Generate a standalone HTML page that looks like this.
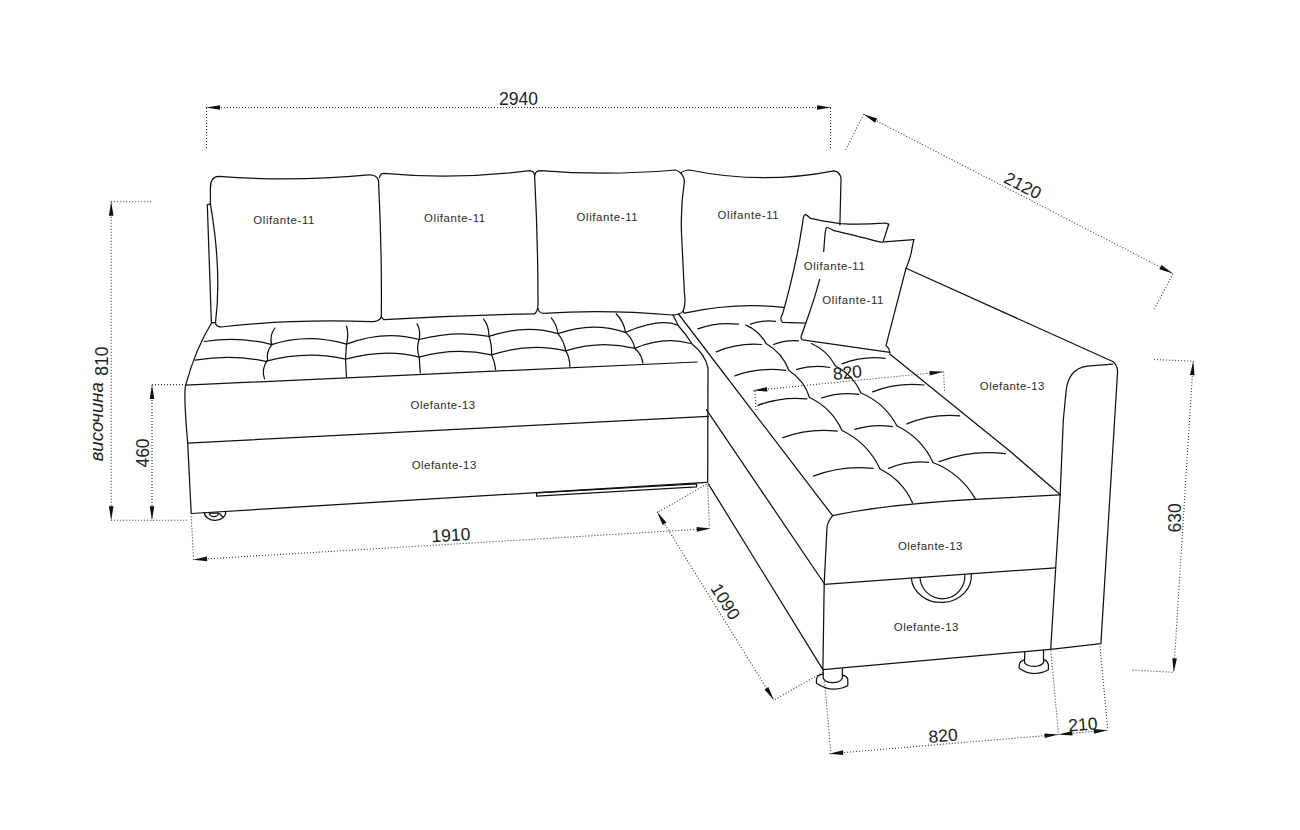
<!DOCTYPE html>
<html><head><meta charset="utf-8"><style>html,body{margin:0;padding:0;background:#fff;}svg{display:block;}text{font-family:"Liberation Sans",sans-serif;}</style></head>
<body><svg width="1300" height="830" viewBox="0 0 1300 830">
<rect width="1300" height="830" fill="#fff"/>
<line x1="206" y1="107.5" x2="831" y2="107.5" fill="none" stroke="#333" stroke-width="1.1" stroke-dasharray="1 2"/>
<path d="M206.0,107.5 L220.0,105.2 L220.0,109.8 Z" fill="#111"/>
<path d="M831.0,107.5 L817.0,109.8 L817.0,105.2 Z" fill="#111"/>
<line x1="206.5" y1="108" x2="206.5" y2="148" fill="none" stroke="#333" stroke-width="1.1" stroke-dasharray="1 2"/>
<line x1="830.5" y1="108" x2="830.5" y2="148.5" fill="none" stroke="#333" stroke-width="1.1" stroke-dasharray="1 2"/>
<text x="499" y="104.5" font-size="17.5" text-anchor="start"  fill="#222">2940</text>
<line x1="863.6" y1="114.2" x2="1172.9" y2="273.6" fill="none" stroke="#333" stroke-width="1.1" stroke-dasharray="1 2"/>
<path d="M863.6,114.2 L877.1,118.6 L875.0,122.7 Z" fill="#111"/>
<path d="M1172.9,273.6 L1159.4,269.2 L1161.5,265.1 Z" fill="#111"/>
<line x1="863.6" y1="114.2" x2="845.7" y2="149.8" fill="none" stroke="#333" stroke-width="1.1" stroke-dasharray="1 2"/>
<line x1="1172.9" y1="273.6" x2="1154.4" y2="309.1" fill="none" stroke="#333" stroke-width="1.1" stroke-dasharray="1 2"/>
<text x="1020.1" y="190.9" font-size="17.5" text-anchor="middle"  fill="#222" transform="rotate(27.3 1020.1 190.9)">2120</text>
<line x1="111.2" y1="201.7" x2="111.2" y2="520.3" fill="none" stroke="#333" stroke-width="1.1" stroke-dasharray="1 2"/>
<path d="M111.2,201.7 L113.5,215.7 L108.9,215.7 Z" fill="#111"/>
<path d="M111.2,520.3 L108.9,506.3 L113.5,506.3 Z" fill="#111"/>
<line x1="111.2" y1="201.7" x2="152.4" y2="201.7" fill="none" stroke="#333" stroke-width="1.1" stroke-dasharray="1 2"/>
<line x1="111.2" y1="520.3" x2="187" y2="520.3" fill="none" stroke="#333" stroke-width="1.1" stroke-dasharray="1 2"/>
<text x="108.5" y="361.2" font-size="17.5" text-anchor="middle"  fill="#222" transform="rotate(-90 108.5 361.2)">810</text>
<text x="103.5" y="421.8" font-size="18.5" text-anchor="middle" font-style="italic" fill="#222" transform="rotate(-90 103.5 421.8)">височина</text>
<line x1="152" y1="385" x2="152" y2="520.3" fill="none" stroke="#333" stroke-width="1.1" stroke-dasharray="1 2"/>
<path d="M152.0,385.0 L154.3,399.0 L149.7,399.0 Z" fill="#111"/>
<path d="M152.0,520.3 L149.7,506.3 L154.3,506.3 Z" fill="#111"/>
<line x1="152" y1="384.6" x2="185" y2="384.6" fill="none" stroke="#333" stroke-width="1.1" stroke-dasharray="1 2"/>
<text x="149.2" y="453" font-size="17.5" text-anchor="middle"  fill="#222" transform="rotate(-90 149.2 453)">460</text>
<line x1="193.1" y1="559.7" x2="710.7" y2="528.6" fill="none" stroke="#333" stroke-width="1.1" stroke-dasharray="1 2"/>
<path d="M193.1,559.7 L206.9,556.6 L207.2,561.2 Z" fill="#111"/>
<path d="M710.7,528.6 L696.9,531.7 L696.6,527.1 Z" fill="#111"/>
<line x1="191.2" y1="516.4" x2="193.5" y2="557.8" fill="none" stroke="#333" stroke-width="1.1" stroke-dasharray="1 2"/>
<line x1="707.7" y1="485.5" x2="709.4" y2="526.2" fill="none" stroke="#333" stroke-width="1.1" stroke-dasharray="1 2"/>
<text x="451.3" y="541.1" font-size="17.5" text-anchor="middle"  fill="#222" transform="rotate(-3.44 451.3 541.1)">1910</text>
<line x1="657.2" y1="511.9" x2="773.8" y2="700.1" fill="none" stroke="#333" stroke-width="1.1" stroke-dasharray="1 2"/>
<path d="M657.2,511.9 L666.5,522.6 L662.6,525.0 Z" fill="#111"/>
<path d="M773.8,700.1 L764.5,689.4 L768.4,687.0 Z" fill="#111"/>
<line x1="706.5" y1="484.3" x2="657.2" y2="512.6" fill="none" stroke="#333" stroke-width="1.1" stroke-dasharray="1 2"/>
<line x1="822.9" y1="672.3" x2="773.8" y2="700.1" fill="none" stroke="#333" stroke-width="1.1" stroke-dasharray="1 2"/>
<text x="720.3" y="604.8" font-size="17.5" text-anchor="middle"  fill="#222" transform="rotate(58.2 720.3 604.8)">1090</text>
<line x1="753.2" y1="390.6" x2="943.6" y2="371.8" fill="none" stroke="#333" stroke-width="1.1" stroke-dasharray="1 2"/>
<path d="M753.2,390.6 L766.9,386.9 L767.4,391.5 Z" fill="#111"/>
<path d="M943.6,371.8 L929.9,375.5 L929.4,370.9 Z" fill="#111"/>
<line x1="755" y1="391" x2="756" y2="411" fill="none" stroke="#333" stroke-width="1.1" stroke-dasharray="1 2"/>
<line x1="943.6" y1="371.8" x2="944.6" y2="392.6" fill="none" stroke="#333" stroke-width="1.1" stroke-dasharray="1 2"/>
<text x="848" y="378.5" font-size="17.5" text-anchor="middle"  fill="#222" transform="rotate(-5.6 848 378.5)">820</text>
<line x1="829.2" y1="753.8" x2="1058.5" y2="734.5" fill="none" stroke="#333" stroke-width="1.1" stroke-dasharray="1 2"/>
<path d="M829.2,753.8 L843.0,750.3 L843.3,754.9 Z" fill="#111"/>
<path d="M1058.5,734.5 L1044.7,738.0 L1044.4,733.4 Z" fill="#111"/>
<line x1="824.6" y1="681.5" x2="830.8" y2="752.3" fill="none" stroke="#333" stroke-width="1.1" stroke-dasharray="1 2"/>
<line x1="1050.8" y1="650.8" x2="1058.5" y2="733.8" fill="none" stroke="#333" stroke-width="1.1" stroke-dasharray="1 2"/>
<text x="943.6" y="741.7" font-size="17.5" text-anchor="middle"  fill="#222" transform="rotate(-4.8 943.6 741.7)">820</text>
<line x1="1058.5" y1="734.5" x2="1107.7" y2="730.2" fill="none" stroke="#333" stroke-width="1.1" stroke-dasharray="1 2"/>
<path d="M1058.5,734.5 L1072.2,731.0 L1072.6,735.6 Z" fill="#111"/>
<path d="M1107.7,730.2 L1094.0,733.7 L1093.6,729.1 Z" fill="#111"/>
<line x1="1100" y1="646.2" x2="1107.7" y2="729.2" fill="none" stroke="#333" stroke-width="1.1" stroke-dasharray="1 2"/>
<text x="1083.3" y="730.3" font-size="17.5" text-anchor="middle"  fill="#222" transform="rotate(-4.8 1083.3 730.3)">210</text>
<line x1="1193.2" y1="361.2" x2="1173.7" y2="672.3" fill="none" stroke="#333" stroke-width="1.1" stroke-dasharray="1 2"/>
<path d="M1193.2,361.2 L1194.6,375.3 L1190.0,375.0 Z" fill="#111"/>
<path d="M1173.7,672.3 L1172.3,658.2 L1176.9,658.5 Z" fill="#111"/>
<line x1="1154.2" y1="359.5" x2="1193.2" y2="361.2" fill="none" stroke="#333" stroke-width="1.1" stroke-dasharray="1 2"/>
<line x1="1132.5" y1="670.1" x2="1173.7" y2="672.3" fill="none" stroke="#333" stroke-width="1.1" stroke-dasharray="1 2"/>
<text x="1181" y="517.8" font-size="17.5" text-anchor="middle"  fill="#222" transform="rotate(-90 1181 517.8)">630</text>
<path d="M219,176.3 Q292,182 368.7,174.8 C374,174.5 378,177 378.5,180.6 Q382,250 381.3,316.2 C381,320 376,322 370.9,321.6 Q290,319 221,327 C218,327 215.5,325 215.5,322.7 Q222,272 210.4,203.8 L210.4,188 C210.4,180 214,176.3 219,176.3 Z" fill="none" stroke="#111" stroke-width="1.25" stroke-linecap="round" stroke-linejoin="round" />
<path d="M210.4,203.8 L207.3,204.8 L211.4,322.7 L215.5,322.7" fill="none" stroke="#111" stroke-width="1.25" stroke-linecap="round" stroke-linejoin="round" />
<path d="M379.6,177.4 C380,174.5 382,173.4 384,173.4 Q455,180 530,170.6 C533,171 534.6,173 534.6,175.9 Q538,240 538,303.2 C538,310 536,313.8 534,313.8 Q460,315 384,319.7 C382.5,319 381.8,318 381.3,316.2" fill="none" stroke="#111" stroke-width="1.25" stroke-linecap="round" stroke-linejoin="round" />
<path d="M534.6,175.9 C535,172 538,170.6 540.7,170.6 Q605.6,176 675.2,170 C680,171 684.4,176 684.4,181.2 Q680,210 681.8,239.5 Q683,265 684.4,292.5 Q686,305 683.1,311 C681,314 676,315 672.5,315 Q605,309 543.3,313.3 C540,313 538.5,311 538,308.5" fill="none" stroke="#111" stroke-width="1.25" stroke-linecap="round" stroke-linejoin="round" />
<path d="M680.5,173.2 C683,171 686,170.1 689.7,170 Q761.6,185 833.9,170.8 C838,171 841,175 841,179.3 L839.9,225" fill="none" stroke="#111" stroke-width="1.25" stroke-linecap="round" stroke-linejoin="round" />
<path d="M683.1,311 C683.5,312.5 684,313 684.4,313.1 Q735,302 783.6,307.3" fill="none" stroke="#111" stroke-width="1.25" stroke-linecap="round" stroke-linejoin="round" />
<path d="M888.7,224.2 Q886,222.8 883.4,223.1 Q860,225 841,223.6 Q822,221 810.4,218.3 Q807,215 805.1,214.4 Q803,216 802.5,223.6 Q800.5,236 798.5,247.5 Q791,285 782.6,313.8 Q779,319.5 782.6,322.3 L805.1,323.1" fill="none" stroke="#111" stroke-width="1.25" stroke-linecap="round" stroke-linejoin="round" />
<path d="M888.7,224.2 L883.4,240.9" fill="none" stroke="#111" stroke-width="1.25" stroke-linecap="round" stroke-linejoin="round" />
<path d="M913.9,239.6 L880.7,242.2 Q850,234 833,230.3 Q828,227 826.3,227.6 Q825.5,230 825,234.3 L823.7,251.5" fill="none" stroke="#111" stroke-width="1.25" stroke-linecap="round" stroke-linejoin="round" />
<path d="M819.7,279.3 Q815,297 809.1,313.8 L801.2,336.3 Q800.5,339 802.5,339.8 L890,352.3 Q889,348 886,345.6 L905.9,268.7 Q909,262 911.2,252.8 Q912.5,245 913.9,239.6" fill="none" stroke="#111" stroke-width="1.25" stroke-linecap="round" stroke-linejoin="round" />
<path d="M906,268.3 L1112.7,361.5 Q1117.3,365 1117.6,371.2 L1100.9,643.6 L1050.7,649.3 L1060.1,496.4 L1063.3,420 L1066,392 Q1068,369 1087,366.2 L1112.7,364.2" fill="none" stroke="#111" stroke-width="1.25" stroke-linecap="round" stroke-linejoin="round" />
<path d="M889.8,354 L1008.8,450.2 L1060.3,494.8" fill="none" stroke="#111" stroke-width="1.25" stroke-linecap="round" stroke-linejoin="round" />
<path d="M832.6,515.7 Q880,505 974.5,499.4 L1060.3,494.8" fill="none" stroke="#111" stroke-width="1.25" stroke-linecap="round" stroke-linejoin="round" />
<path d="M832.6,515.7 C829,520 826.9,526 826.9,529.2 L824.2,583.5 L822.9,669.6 L1050.7,649.3" fill="none" stroke="#111" stroke-width="1.25" stroke-linecap="round" stroke-linejoin="round" />
<path d="M824.2,584.3 L1055.4,567.8" fill="none" stroke="#111" stroke-width="1.25" stroke-linecap="round" stroke-linejoin="round" />
<path d="M911.3,578.1 A30,26.4 0 0 0 971.3,573.8" fill="none" stroke="#111" stroke-width="1.25" stroke-linecap="round" stroke-linejoin="round" />
<path d="M919.9,577.5 A22.45,22.8 0 0 0 964.8,574.3" fill="none" stroke="#111" stroke-width="1.25" stroke-linecap="round" stroke-linejoin="round" />
<path d="M678.5,314 L832.6,515.7" fill="none" stroke="#111" stroke-width="1.25" stroke-linecap="round" stroke-linejoin="round" />
<path d="M706.4,409.6 L824.2,583.5" fill="none" stroke="#111" stroke-width="1.25" stroke-linecap="round" stroke-linejoin="round" />
<path d="M708.3,483.8 L822.9,669.6" fill="none" stroke="#111" stroke-width="1.25" stroke-linecap="round" stroke-linejoin="round" />
<path d="M211.5,323 Q196,348 185.6,385.1 L697,362" fill="none" stroke="#111" stroke-width="1.25" stroke-linecap="round" stroke-linejoin="round" />
<path d="M185.6,385.1 Q183.5,395 187.7,443.1 L191.2,513.5 L706.5,482.3" fill="none" stroke="#111" stroke-width="1.25" stroke-linecap="round" stroke-linejoin="round" />
<path d="M187.7,443.1 L708.3,416.4" fill="none" stroke="#111" stroke-width="1.25" stroke-linecap="round" stroke-linejoin="round" />
<path d="M673,315 L678.5,326 Q686,334 692.5,344.5 Q705,354 708,368 L707.7,482.3" fill="none" stroke="#111" stroke-width="1.25" stroke-linecap="round" stroke-linejoin="round" />
<path d="M536.6,492.9 L696.6,483.8 L696.6,486.8 L536.6,496.1 Z" fill="none" stroke="#111" stroke-width="1.25" stroke-linecap="round" stroke-linejoin="round" stroke-width="1.2"/>
<path d="M204.4,512.6 A10.65,8.2 0 0 0 225.7,511.9" fill="none" stroke="#111" stroke-width="1.25" stroke-linecap="round" stroke-linejoin="round" stroke-width="1.3"/>
<path d="M209.3,513 A4.6,3.6 0 0 0 218.5,513 Z M219.6,513.7 L222.8,517" fill="none" stroke="#111" stroke-width="1.25" stroke-linecap="round" stroke-linejoin="round" stroke-width="1.3"/>
<path d="M823.2,670.4 L823.2,676.7 A9.6,5.4 0 0 0 842.4,677.8 L842.4,668.6" fill="none" stroke="#111" stroke-width="1.25" stroke-linecap="round" stroke-linejoin="round" stroke-width="1.4"/>
<path d="M823.2,674.2 C819,674.5 817,676 816.5,679 L816.4,683.2 Q826,689.5 834.3,689.1 Q843,688.5 847.8,685.4 L847.8,679 Q847,676.5 842.9,675.1" fill="none" stroke="#111" stroke-width="1.25" stroke-linecap="round" stroke-linejoin="round" stroke-width="1.4"/>
<path d="M1024.8,651.8 L1024.5,662.6 A9.5,5 0 0 0 1043.5,659.9 L1043.5,650.2" fill="none" stroke="#111" stroke-width="1.25" stroke-linecap="round" stroke-linejoin="round" stroke-width="1.4"/>
<path d="M1024.2,659.9 C1021,661 1019.6,662.5 1019.4,664.5 L1019.1,668.1 Q1026,673.5 1034.3,673.5 Q1043,673 1048.4,669.7 L1048.4,664.8 Q1047.5,661 1044.6,659.9" fill="none" stroke="#111" stroke-width="1.25" stroke-linecap="round" stroke-linejoin="round" stroke-width="1.4"/>
<path d="M204.3,341.5 Q240,336 271.8,344.7 Q307,333 346.5,344.2 Q384,330 419.2,339.5 Q455,330 489,336.3 Q526,324 557.9,333.7 Q592,321 625.5,332.4 Q659,318 677.5,325" fill="none" stroke="#111" stroke-width="1.25" stroke-linecap="round" stroke-linejoin="round" />
<path d="M195,360.2 Q232,354 265.5,361.3 Q307,350 345.5,359.2 Q386,348 419.2,357.1 Q455,347 491.6,354.9 Q531,342 565.8,350.9 Q600,340 634.8,348.3 Q664,336 690.5,343.5" fill="none" stroke="#111" stroke-width="1.25" stroke-linecap="round" stroke-linejoin="round" />
<path d="M274.9,328 Q269,336 271.8,344.7 Q266,352 267.6,360.2 Q261,369 264.5,378.9" fill="none" stroke="#111" stroke-width="1.25" stroke-linecap="round" stroke-linejoin="round" />
<path d="M346.5,326 Q349,335 346.5,344.2 Q346,352 345.5,359.2 L346.5,376.8" fill="none" stroke="#111" stroke-width="1.25" stroke-linecap="round" stroke-linejoin="round" />
<path d="M417.1,323.9 Q421,331 419.2,339.5 Q416,348 419.2,357.1 L420.3,372.7" fill="none" stroke="#111" stroke-width="1.25" stroke-linecap="round" stroke-linejoin="round" />
<path d="M483.6,319.1 Q489,326 489,336.3 Q492,345 491.6,354.9 Q495,362 495.6,369.5" fill="none" stroke="#111" stroke-width="1.25" stroke-linecap="round" stroke-linejoin="round" />
<path d="M551.3,317.8 Q557,325 557.9,333.7 Q564,341 565.8,350.9 Q570,358 569.8,366.8" fill="none" stroke="#111" stroke-width="1.25" stroke-linecap="round" stroke-linejoin="round" />
<path d="M616.2,313.8 Q624,322 625.5,332.4 Q633,339 634.8,348.3 Q642,355 642.8,362.9" fill="none" stroke="#111" stroke-width="1.25" stroke-linecap="round" stroke-linejoin="round" />
<path d="M697.8,328.8 Q717.6,321.6 738.5,324.2" fill="none" stroke="#111" stroke-width="1.25" stroke-linecap="round" stroke-linejoin="round" />
<path d="M750.5,324.2 Q762.6,319.8 775.4,321.4" fill="none" stroke="#111" stroke-width="1.25" stroke-linecap="round" stroke-linejoin="round" />
<path d="M716.3,351.8 Q738.0,342.7 761.5,344.5" fill="none" stroke="#111" stroke-width="1.25" stroke-linecap="round" stroke-linejoin="round" />
<path d="M773.5,344.5 Q785.6,339.6 798.5,340.8" fill="none" stroke="#111" stroke-width="1.25" stroke-linecap="round" stroke-linejoin="round" />
<path d="M734.8,375.8 Q759.5,367.0 785.5,370.3" fill="none" stroke="#111" stroke-width="1.25" stroke-linecap="round" stroke-linejoin="round" />
<path d="M796.6,369.4 Q813.0,364.5 829.8,367.5" fill="none" stroke="#111" stroke-width="1.25" stroke-linecap="round" stroke-linejoin="round" />
<path d="M841.8,363.8 Q862.8,355.8 885.2,358.3" fill="none" stroke="#111" stroke-width="1.25" stroke-linecap="round" stroke-linejoin="round" />
<path d="M757.8,405.4 Q781.5,396.3 806.8,398.9" fill="none" stroke="#111" stroke-width="1.25" stroke-linecap="round" stroke-linejoin="round" />
<path d="M821.5,398 Q839.6,391.7 858.5,394.3" fill="none" stroke="#111" stroke-width="1.25" stroke-linecap="round" stroke-linejoin="round" />
<path d="M872.6,391.8 Q897.5,382.2 924.1,385" fill="none" stroke="#111" stroke-width="1.25" stroke-linecap="round" stroke-linejoin="round" />
<path d="M782.8,437.7 Q809.2,427.9 837.2,431.2" fill="none" stroke="#111" stroke-width="1.25" stroke-linecap="round" stroke-linejoin="round" />
<path d="M854.8,429.4 Q873.3,423.5 892.4,426.6" fill="none" stroke="#111" stroke-width="1.25" stroke-linecap="round" stroke-linejoin="round" />
<path d="M906.9,423.9 Q932.3,413.6 959.6,415.9" fill="none" stroke="#111" stroke-width="1.25" stroke-linecap="round" stroke-linejoin="round" />
<path d="M813.4,476.1 Q842.3,465.1 873.1,468.4" fill="none" stroke="#111" stroke-width="1.25" stroke-linecap="round" stroke-linejoin="round" />
<path d="M888.5,468.4 Q907.9,460.5 928.7,462.3" fill="none" stroke="#111" stroke-width="1.25" stroke-linecap="round" stroke-linejoin="round" />
<path d="M939,461.6 Q971.2,449.6 1005.4,453.6" fill="none" stroke="#111" stroke-width="1.25" stroke-linecap="round" stroke-linejoin="round" />
<path d="M745.8,325.1 Q759.2,330.7 766,343.5 Q782.4,352.9 789,370.5 Q804.1,380.3 809.5,397.5 Q831.7,408.1 842,430.5 Q867.9,442.9 880,469 Q902.4,480.1 912.6,503" fill="none" stroke="#111" stroke-width="1.25" stroke-linecap="round" stroke-linejoin="round" />
<path d="M811.4,343.5 Q827.4,350.4 835.4,366 Q853.1,374.9 861,393 Q884.9,403.0 897,426 Q921.6,437.8 933,462.5 Q960.9,473.3 975.6,499.4" fill="none" stroke="#111" stroke-width="1.25" stroke-linecap="round" stroke-linejoin="round" />
<text x="253.3" y="223.6" font-size="11.4" letter-spacing="0.62" fill="#2a2a2a">Olifante-11</text>
<text x="424" y="221.9" font-size="11.4" letter-spacing="0.62" fill="#2a2a2a">Olifante-11</text>
<text x="576.5" y="220.6" font-size="11.4" letter-spacing="0.62" fill="#2a2a2a">Olifante-11</text>
<text x="717.5" y="219.4" font-size="11.4" letter-spacing="0.62" fill="#2a2a2a">Olifante-11</text>
<text x="803.7" y="270.4" font-size="11.4" letter-spacing="0.62" fill="#2a2a2a">Olifante-11</text>
<text x="822.3" y="304.2" font-size="11.4" letter-spacing="0.62" fill="#2a2a2a">Olifante-11</text>
<text x="410.6" y="409.3" font-size="11.4" letter-spacing="0.5" fill="#2a2a2a">Olefante-13</text>
<text x="411.7" y="469.3" font-size="11.4" letter-spacing="0.5" fill="#2a2a2a">Olefante-13</text>
<text x="897.9" y="549.9" font-size="11.4" letter-spacing="0.5" fill="#2a2a2a">Olefante-13</text>
<text x="893.8" y="630.6" font-size="11.4" letter-spacing="0.5" fill="#2a2a2a">Olefante-13</text>
<text x="979.8" y="390.3" font-size="11.4" letter-spacing="0.5" fill="#2a2a2a">Olefante-13</text>
</svg></body></html>
